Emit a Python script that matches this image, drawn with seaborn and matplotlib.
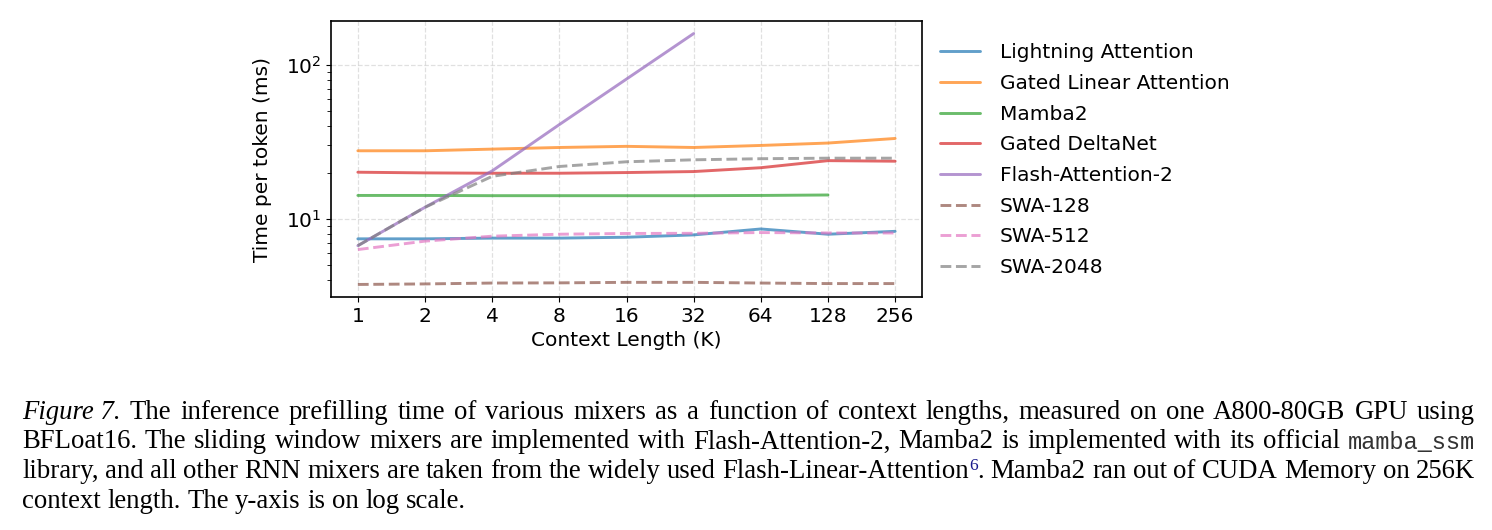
import matplotlib
matplotlib.use('Agg')
import matplotlib.pyplot as plt
import matplotlib.ticker as mticker
import seaborn as sns
import pandas as pd
import numpy as np

# context lengths (K)
ctx = [1, 2, 4, 8, 16, 32, 64, 128, 256]

# time per token (ms)
lightning = [7.42, 7.42, 7.5, 7.5, 7.6, 7.87, 8.6, 7.95, 8.3]
gla = [27.7, 27.7, 28.4, 29.1, 29.6, 29.1, 30.0, 31.1, 33.3]
mamba2 = [14.2, 14.2, 14.15, 14.15, 14.15, 14.15, 14.2, 14.3, np.nan]
deltanet = [20.1, 19.9, 19.8, 19.8, 20.0, 20.3, 21.5, 23.9, 23.7]
fa2 = [6.7, 11.9, 20.5, 41.0, 81.0, 160.0, np.nan, np.nan, np.nan]
swa128 = [3.75, 3.78, 3.83, 3.84, 3.87, 3.87, 3.83, 3.8, 3.8]
swa512 = [6.32, 7.17, 7.72, 7.95, 8.04, 8.06, 8.15, 8.1, 8.1]
swa2048 = [6.7, 11.9, 18.9, 21.9, 23.5, 24.2, 24.6, 24.8, 24.8]

series = {
    'Lightning Attention': lightning,
    'Gated Linear Attention': gla,
    'Mamba2': mamba2,
    'Gated DeltaNet': deltanet,
    'Flash-Attention-2': fa2,
    'SWA-128': swa128,
    'SWA-512': swa512,
    'SWA-2048': swa2048,
}

sns.set_style('ticks')
plt.rcParams['font.family'] = ['DejaVu Sans']
plt.rcParams['text.color'] = 'black'
plt.rcParams['axes.labelcolor'] = 'black'
plt.rcParams['xtick.color'] = 'black'
plt.rcParams['ytick.color'] = 'black'

fig = plt.figure(figsize=(14.92, 5.30), dpi=100)
ax = fig.add_axes([331 / 1492, 1 - 297 / 530, (922 - 331) / 1492, (297 - 21) / 530])

colors = sns.color_palette('tab10', 8)
for i, (name, vals) in enumerate(series.items()):
    df = pd.DataFrame({'ctx': ctx, 'time': vals}).dropna()
    ls = '--' if name.startswith('SWA') else '-'
    sns.lineplot(data=df, x='ctx', y='time', ax=ax, color=colors[i], alpha=0.7,
                 linewidth=2.1, linestyle=ls, label=name)

ax.set_xscale('log', base=2)
ax.set_yscale('log')
ax.set_xticks(ctx)
ax.xaxis.set_major_formatter(mticker.FixedFormatter([str(c) for c in ctx]))
ax.xaxis.set_minor_locator(mticker.NullLocator())
ax.tick_params(labelsize=14.5)
ax.tick_params(which='minor', length=3, color='black')
ax.grid(True, which='major', linestyle='--', color='#cccccc', alpha=0.6, linewidth=0.9)
for s in ax.spines.values():
    s.set_color('black')
    s.set_linewidth(1.2)
ax.set_xlabel('Context Length (K)', fontsize=14.5)
ax.set_ylabel('Time per token (ms)', fontsize=14.5, labelpad=10)
ax.legend(loc='upper left', bbox_to_anchor=(1.0, 0.985), frameon=False, fontsize=14.5,
          borderaxespad=0.5, labelspacing=0.58, handletextpad=0.95)

# caption, justified like the paper
fig.canvas.draw()
renderer = fig.canvas.get_renderer()
serif = dict(family='Liberation Serif', fontsize=19.3, color='black')
ital = dict(serif, style='italic')
mono = dict(family='Liberation Mono', fontsize=17, color='#333333')
sup = dict(family='Liberation Serif', fontsize=12.5, color='#1a1a8c')

def words(s, style=serif):
    return [[(w, style, 0)] for w in s.split()]

lines = [
    [[('Figure 7.', ital, 0)]] + words('The inference prefilling time of various mixers as a function of '
                                        'context lengths, measured on one A800-80GB GPU using'),
    words('BFLoat16. The sliding window mixers are implemented with Flash-Attention-2, Mamba2 is '
          'implemented with its official') + [[('mamba_ssm', mono, 0)]],
    words('library, and all other RNN mixers are taken from the widely used')
    + [[('Flash-Linear-Attention', serif, 0), ('6', sup, 8), ('.', serif, 0)]]
    + words('Mamba2 ran out of CUDA Memory on 256K'),
    words('context length. The y-axis is on log scale.'),
]
baselines = [419, 448.5, 478, 507.5]
x0, x1 = 22, 1475
W, H = 1492, 530

for li, (line, yb) in enumerate(zip(lines, baselines)):
    placed = []
    for word in line:
        pieces = []
        for txt, st, dy in word:
            t = fig.text(0, 1 - (yb - dy) / H, txt, va='baseline', ha='left', **st)
            pieces.append(t)
        widths = [p.get_window_extent(renderer).width for p in pieces]
        placed.append((pieces, widths))
    total = sum(sum(w) for _, w in placed)
    if li < len(lines) - 1:
        gap = (x1 - x0 - total) / (len(placed) - 1)
    else:
        gap = 6.5
    x = x0
    for pieces, widths in placed:
        for p, w in zip(pieces, widths):
            p.set_x(x / W)
            x += w
        x += gap

fig.savefig('out.png', dpi=100)
